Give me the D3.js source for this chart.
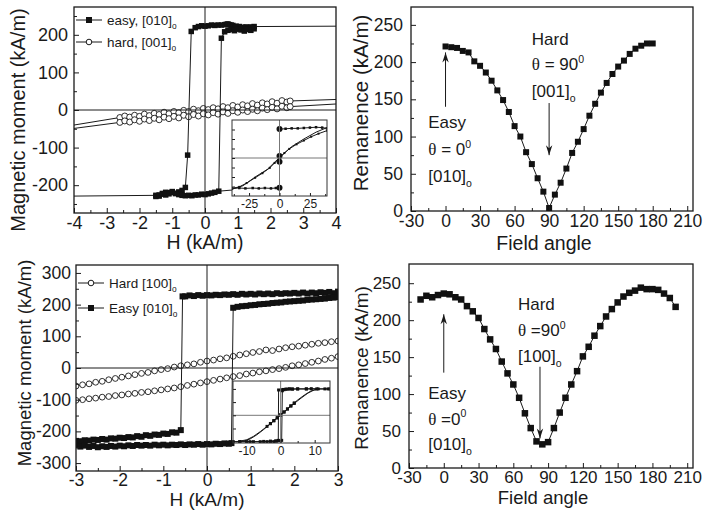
<!DOCTYPE html>
<meta charset="utf-8">
<head>
<style>
  body { margin: 0; background: #fff; }
  svg { display: block; font-family: "Liberation Sans", Arial, sans-serif; }
  .frame { fill: none; stroke: #1a1a1a; stroke-width: 1.3; }
  .zero { stroke: #1a1a1a; stroke-width: 1; }
  .izero { stroke: #777; stroke-width: 1; }
  .dline { fill: none; stroke: #1a1a1a; stroke-width: 1; }
  .ann { fill: #1a1a1a; }
</style>
<script src="https://d3js.org/d3.v7.min.js"></script>
</head>
<body>
<svg id="fig" width="705" height="512"></svg>
<script>
// ---------- data ----------
// top left: easy axis loop [H, M]  (tails without markers go to the frame)
var easy1Down = [[4,223],[1.5,222],[1.45,218],[1.4,221],[1.35,216],[1.3,219],[1.25,221],[1.2,217],[1.15,220],[1.1,218],[1.05,222],[1.0,220],[0.95,223],[0.9,221],[0.85,225],[0.8,226],[0.75,227],[0.7,229],[0.65,228],[0.6,227],[0.5,226],[0.4,226],[0.3,225],[0.2,226],[0.1,224],[0.0,223],[-0.1,224],[-0.2,222],[-0.3,219],[-0.42,209],[-0.53,-120],[-0.6,-206],[-0.7,-214],[-0.8,-218],[-0.9,-222],[-1.0,-217],[-1.1,-220],[-1.2,-226],[-1.3,-224],[-1.4,-229],[-1.5,-227],[-4,-229]];
var easy1Up = [[-1.5,-230],[-1.4,-226],[-1.3,-222],[-1.2,-219],[-1.1,-223],[-1.0,-219],[-0.9,-222],[-0.8,-225],[-0.7,-227],[-0.6,-228],[-0.5,-227],[-0.4,-228],[-0.3,-226],[-0.2,-226],[-0.1,-224],[0.0,-225],[0.1,-223],[0.2,-221],[0.3,-219],[0.42,-216],[0.5,191],[0.6,208],[0.7,212],[0.8,214],[0.9,211],[1.0,215],[1.1,213],[1.2,210],[1.3,214],[1.4,212],[1.5,216]];
var easy1Stub = [[0.42,-216],[0.95,-212]];
// top left: hard axis, two branches
var hard1H = [-2.6,-2.45,-2.3,-2.15,-2.0,-1.85,-1.7,-1.55,-1.4,-1.25,-1.1,-0.95,-0.8,-0.65,-0.5,-0.35,-0.2,-0.05,0.1,0.25,0.4,0.55,0.7,0.85,1.0,1.15,1.3,1.45,1.6,1.75,1.9,2.05,2.2,2.35,2.5,2.6];
var hard1Up = [-20,-16,-19,-14,-17,-11,-15,-9,-12,-6,-10,-4,-7,-1,-4,2,-2,4,1,6,3,9,6,12,8,14,11,17,13,19,16,22,18,25,21,24];
var hard1Low = [-33,-29,-32,-26,-30,-24,-28,-22,-26,-19,-23,-17,-21,-14,-18,-12,-16,-10,-13,-7,-11,-5,-9,-2,-6,0,-4,2,-2,5,1,7,3,10,6,9];
var hard1UpEnds = [[-4,-40],[4,28]];
var hard1LowEnds = [[-4,-49],[4,16]];
// top inset (field in kA/m, moment normalised)
var ins1EasyUp = [[0,0.76],[5,0.77],[10,0.78],[15,0.78],[20,0.79],[25,0.8],[30,0.81],[35,0.8],[39,0.78]];
var ins1EasyLow = [[-39,-0.8],[-33,-0.79],[-28,-0.8],[-22,-0.79],[-17,-0.8],[-12,-0.79],[-7,-0.8],[-3,-0.79],[0,-0.78]];
var ins1EasyJump = [[0,-0.78],[0,-0.1],[0,0.05],[0,0.76]];
var ins1HardA = [[-39,-0.8],[-33,-0.76],[-27,-0.66],[-20,-0.52],[-14,-0.4],[-8,-0.26],[-4,-0.13],[0,0],[4,0.13],[8,0.24],[14,0.36],[20,0.46],[26,0.56],[32,0.64],[39,0.72]];
var ins1HardB = [[-39,-0.82],[-30,-0.73],[-20,-0.5],[-10,-0.3],[-3,-0.08],[3,0.1],[10,0.3],[20,0.5],[30,0.68],[39,0.8]];
// top right: remanence vs angle
var rem1Angle = [0,5,10,15,20,25,30,35,40,45,50,55,60,65,70,75,80,85,90,95,100,105,110,115,120,125,130,135,140,145,150,155,160,165,170,175,180];
var rem1Val = [221,220,219,215,213,201,195,186,175,162,149,133,114,100,79,63,44,26,4,22,38,57,78,93,110,128,144,159,172,184,194,202,211,218,222,225,225];
// bottom left: easy loop
var easy3Down = [[3.0,241],[2.9,236],[2.8,240],[2.7,237],[2.6,239],[2.5,236],[2.4,238],[2.3,235],[2.2,238],[2.1,235],[2.0,237],[1.9,235],[1.8,236],[1.7,234],[1.6,236],[1.5,233],[1.4,235],[1.3,233],[1.2,235],[1.1,232],[1.0,234],[0.9,232],[0.8,234],[0.7,231],[0.6,233],[0.5,231],[0.4,232],[0.3,230],[0.2,231],[0.1,229],[0.0,230],[-0.1,228],[-0.2,230],[-0.3,227],[-0.4,229],[-0.5,226],[-0.56,226],[-0.6,-196],[-0.7,-204],[-0.8,-203],[-0.9,-208],[-1.0,-207],[-1.1,-211],[-1.2,-210],[-1.3,-214],[-1.4,-212],[-1.5,-217],[-1.6,-215],[-1.7,-219],[-1.8,-218],[-1.9,-221],[-2.0,-220],[-2.1,-223],[-2.2,-222],[-2.3,-226],[-2.4,-224],[-2.5,-227],[-2.6,-226],[-2.7,-229],[-2.8,-228],[-2.9,-231],[-3.0,-230]];
var easy3Up = [[-3.0,-244],[-2.9,-248],[-2.8,-245],[-2.7,-249],[-2.6,-246],[-2.5,-250],[-2.4,-247],[-2.3,-249],[-2.2,-246],[-2.1,-248],[-2.0,-245],[-1.9,-247],[-1.8,-244],[-1.7,-246],[-1.6,-243],[-1.5,-245],[-1.4,-243],[-1.3,-245],[-1.2,-242],[-1.1,-244],[-1.0,-242],[-0.9,-244],[-0.8,-242],[-0.7,-243],[-0.6,-241],[-0.5,-243],[-0.4,-241],[-0.3,-242],[-0.2,-240],[-0.1,-242],[0.0,-240],[0.1,-241],[0.2,-239],[0.3,-240],[0.4,-238],[0.5,-239],[0.56,-237],[0.6,190],[0.7,193],[0.8,195],[0.9,196],[1.0,198],[1.1,199],[1.2,201],[1.3,202],[1.4,203],[1.5,205],[1.6,206],[1.7,207],[1.8,209],[1.9,210],[2.0,211],[2.1,212],[2.2,213],[2.3,215],[2.4,216],[2.5,217],[2.6,218],[2.7,219],[2.8,221],[2.9,222],[3.0,224]];
// bottom left: hard axis
var hard3H = [-3,-2.85,-2.7,-2.55,-2.4,-2.25,-2.1,-1.95,-1.8,-1.65,-1.5,-1.35,-1.2,-1.05,-0.9,-0.75,-0.6,-0.45,-0.3,-0.15,0,0.15,0.3,0.45,0.6,0.75,0.9,1.05,1.2,1.35,1.5,1.65,1.8,1.95,2.1,2.25,2.4,2.55,2.7,2.85,3];
var hard3Up = [-57,-53,-50,-45,-42,-37,-33,-29,-25,-21,-17,-14,-9,-5,-2,3,7,10,13,18,22,25,29,32,37,41,45,49,52,57,55,60,64,67,69,72,75,78,80,83,85];
var hard3Low = [-102,-100,-97,-95,-92,-90,-87,-85,-82,-80,-77,-75,-72,-69,-66,-63,-59,-55,-51,-47,-43,-39,-35,-31,-27,-24,-19,-16,-12,-9,-5,-2,2,7,10,14,18,22,27,31,36];
// bottom inset
var ins2EasyDown = [[14.5,1],[13,1],[11,1],[9,1.01],[7.5,1],[5,1],[3.5,0.99],[2.5,1],[1.5,0.99],[0.8,0.98],[0.3,0.97],[-0.6,0.96],[-0.7,-0.95],[-1.2,-0.98],[-2,-1],[-3,-0.99],[-4,-1],[-6,-1],[-9,-1],[-12,-1],[-14,-1]];
var ins2EasyUp = [[-14,-1],[-12,-1],[-10,-1],[-8,-1],[-5,-0.99],[-3,-0.98],[-1.5,-0.97],[-0.5,-0.96],[0.3,-0.95],[0.5,0.93],[1,0.97],[1.8,0.99],[2.6,1],[3.4,1],[5,1],[7.6,1],[10.6,1],[14,1]];
var ins2HardA = [[-13,-1],[-10,-0.93],[-8,-0.8],[-6,-0.62],[-4,-0.42],[-3,-0.31],[-2,-0.2],[-1,-0.09],[0,0.02],[1,0.13],[2,0.24],[3,0.35],[4,0.45],[6,0.65],[8,0.84],[10,0.97],[11.5,1]];
var ins2HardB = [[11.5,1],[9,0.93],[7,0.77],[5,0.58],[4,0.47],[3,0.36],[2,0.24],[1,0.12],[0,0.01],[-1,-0.1],[-2,-0.21],[-3,-0.32],[-5,-0.54],[-7,-0.74],[-9,-0.9],[-11,-0.98],[-13,-1]];
// bottom right: remanence vs angle
var rem2Angle = [-20,-15,-10,-5,0,5,10,15,20,25,30,35,40,45,50,55,60,65,70,75,80,85,90,95,100,105,110,115,120,125,130,135,140,145,150,155,160,165,170,175,180,185,190,195,200];
var rem2Val = [228,233,231,234,236,235,231,228,219,212,203,188,174,161,144,128,113,95,74,54,36,32,35,54,75,95,113,131,151,164,179,192,205,215,224,232,237,240,244,242,242,241,236,230,218];

// tick values
var ticksH4 = [-4,-3,-2,-1,0,1,2,3,4];
var ticksH3 = [-3,-2,-1,0,1,2,3];
var ticksM1 = [-200,-100,0,100,200];
var ticksM3 = [-300,-200,-100,0,100,200,300];
var ticksAng = [-30,0,30,60,90,120,150,180,210];
var ticksRem = [0,50,100,150,200,250];

// ---------- drawing ----------
var svg = d3.select("#fig");
svg.append("rect").attr("width", 705).attr("height", 512).attr("fill", "#fff");

function makePanel(o) {
  var x = d3.scaleLinear().domain(o.xd).range([o.l, o.r]);
  var y = d3.scaleLinear().domain(o.yd).range([o.b, o.t]);
  svg.append("clipPath").attr("id", "clip" + o.id)
    .append("rect").attr("x", o.l).attr("y", o.t).attr("width", o.r - o.l).attr("height", o.b - o.t);
  var g = svg.append("g");
  if (o.bg) g.append("rect").attr("x", o.l).attr("y", o.t).attr("width", o.r - o.l).attr("height", o.b - o.t).attr("fill", "#fff");
  var data = g.append("g").attr("clip-path", "url(#clip" + o.id + ")");
  return {x: x, y: y, g: g, data: data, o: o};
}

function axes(p, c) {
  var o = p.o, f = function(d) { return String(d); };
  function strip(s) { s.select(".domain").remove(); s.attr("font-family", null).attr("color", "#1a1a1a"); }
  p.g.append("g").attr("transform", "translate(0," + o.b + ")")
    .call(d3.axisBottom(p.x).tickValues(c.xMinor).tickSize(-c.minor).tickFormat("")).call(strip);
  p.g.append("g").attr("transform", "translate(0," + o.b + ")")
    .call(d3.axisBottom(p.x).tickValues(c.xMajor).tickSize(-c.major).tickPadding(c.padX).tickFormat(f))
    .call(strip).attr("font-size", c.fs);
  p.g.append("g").attr("transform", "translate(" + o.l + ",0)")
    .call(d3.axisLeft(p.y).tickValues(c.yMinor).tickSize(-c.minor).tickFormat("")).call(strip);
  p.g.append("g").attr("transform", "translate(" + o.l + ",0)")
    .call(d3.axisLeft(p.y).tickValues(c.yMajor).tickSize(-c.major).tickPadding(c.padY).tickFormat(c.noY ? "" : f))
    .call(strip).attr("font-size", c.fs);
}

function frame(p, cls) {
  var o = p.o;
  p.g.append("rect").attr("class", cls || "frame")
    .attr("x", o.l).attr("y", o.t).attr("width", o.r - o.l).attr("height", o.b - o.t);
}

function titles(p, xt, yt) {
  p.g.append("text").attr("x", xt.x).attr("y", xt.y).attr("text-anchor", "middle")
    .attr("font-size", xt.fs).attr("fill", "#1a1a1a").text(xt.text);
  p.g.append("text").attr("transform", "translate(" + yt.x + "," + yt.y + ") rotate(-90)")
    .attr("text-anchor", "middle").attr("font-size", yt.fs).attr("fill", "#1a1a1a").text(yt.text);
}

function line(p, g, pts, w) {
  g.append("path").attr("class", "dline").attr("stroke-width", w || 1)
    .attr("d", d3.line().x(function(d) { return p.x(d[0]); }).y(function(d) { return p.y(d[1]); })(pts));
}

function squares(p, g, pts, s) {
  g.selectAll(null).data(pts).enter().append("rect")
    .attr("x", function(d) { return p.x(d[0]) - s / 2; })
    .attr("y", function(d) { return p.y(d[1]) - s / 2; })
    .attr("width", s).attr("height", s).attr("fill", "#111");
}

function circles(p, g, pts, r) {
  g.selectAll(null).data(pts).enter().append("circle")
    .attr("cx", function(d) { return p.x(d[0]); })
    .attr("cy", function(d) { return p.y(d[1]); })
    .attr("r", r).attr("fill", "#fff").attr("stroke", "#1a1a1a").attr("stroke-width", 0.9);
}

// text with optional sub / superscript pieces
function rich(g, x, y, fs, parts) {
  var t = g.append("text").attr("x", x).attr("y", y).attr("font-size", fs).attr("class", "ann");
  parts.forEach(function(q) {
    var s = t.append("tspan").text(q.t);
    if (q.serif) s.attr("font-family", "'Liberation Serif', 'Times New Roman', serif");
    if (q.sup) s.attr("font-size", fs * 0.62).attr("dy", -fs * 0.45);
    if (q.sub) s.attr("font-size", fs * 0.62).attr("dy", fs * 0.3);
  });
  return t;
}

function arrow(g, x1, y1, x2, y2) {
  g.append("line").attr("x1", x1).attr("y1", y1).attr("x2", x2).attr("y2", y2)
    .attr("stroke", "#1a1a1a").attr("stroke-width", 1);
  var dir = y2 > y1 ? 1 : -1;
  g.append("path").attr("fill", "#1a1a1a")
    .attr("d", "M" + x2 + "," + y2 + "L" + (x2 - 3.2) + "," + (y2 - dir * 10) + "L" + x2 + "," + (y2 - dir * 7) + "L" + (x2 + 3.2) + "," + (y2 - dir * 10) + "Z");
}

function zeroLines(p, cls) {
  var o = p.o;
  p.g.append("line").attr("class", cls || "zero").attr("x1", o.l).attr("x2", o.r).attr("y1", p.y(0)).attr("y2", p.y(0));
  p.g.append("line").attr("class", cls || "zero").attr("x1", p.x(0)).attr("x2", p.x(0)).attr("y1", o.t).attr("y2", o.b);
}

function legendRow(p, y, kind, label, sub) {
  var g = p.g;
  g.append("line").attr("x1", p.o.l + 2).attr("x2", p.o.l + 28).attr("y1", y).attr("y2", y)
    .attr("stroke", "#1a1a1a").attr("stroke-width", 1);
  if (kind == "sq") g.append("rect").attr("x", p.o.l + 12).attr("y", y - 3).attr("width", 6).attr("height", 6).attr("fill", "#111");
  else g.append("circle").attr("cx", p.o.l + 15).attr("cy", y).attr("r", 2.8).attr("fill", "#fff").attr("stroke", "#1a1a1a");
  rich(g, p.o.l + 33, y + 5, 13.5, [{t: label}, {t: sub, sub: true}]);
}

// ===== panel 1 : top left =====
var p1 = makePanel({id: 1, l: 74, r: 336, t: 7, b: 213, xd: [-4, 4], yd: [-274, 274]});
zeroLines(p1);
var up1 = hard1H.map(function(h, i) { return [h, hard1Up[i]]; });
var low1 = hard1H.map(function(h, i) { return [h, hard1Low[i]]; });
line(p1, p1.data, [hard1UpEnds[0]].concat(up1, [hard1UpEnds[1]]));
line(p1, p1.data, [hard1LowEnds[0]].concat(low1, [hard1LowEnds[1]]));
circles(p1, p1.data, up1, 3);
circles(p1, p1.data, low1, 3);
line(p1, p1.data, easy1Stub);
line(p1, p1.data, easy1Down);
line(p1, p1.data, easy1Up);
squares(p1, p1.data, easy1Down.filter(function(d) { return Math.abs(d[0]) <= 1.55; }), 5.5);
squares(p1, p1.data, easy1Up, 5.5);
legendRow(p1, 20, "sq", "easy, [010]", "o");
legendRow(p1, 42, "ci", "hard, [001]", "o");

// inset 1
var i1 = makePanel({id: 11, l: 232, r: 327, t: 120, b: 196, xd: [-39, 39], yd: [-1, 1], bg: true});
zeroLines(i1, "izero");
line(i1, i1.data, ins1HardA);
line(i1, i1.data, ins1HardB);
line(i1, i1.data, ins1EasyUp);
line(i1, i1.data, ins1EasyLow);
line(i1, i1.data, ins1EasyJump, 2.2);
squares(i1, i1.data, ins1EasyUp.concat(ins1EasyLow), 2.5);
squares(i1, i1.data, ins1HardA, 2);
i1.data.selectAll(null).data(ins1EasyJump).enter().append("circle")
  .attr("cx", function(d) { return i1.x(d[0]); }).attr("cy", function(d) { return i1.y(d[1]); })
  .attr("r", 3).attr("fill", "#111");
axes(i1, {xMajor: [-25, 0, 25], xMinor: [-37.5, -12.5, 12.5, 37.5], yMajor: [-0.75, -0.5, -0.25, 0, 0.25, 0.5, 0.75], yMinor: [],
  major: 3, minor: 2, padX: 3, padY: 2, fs: 12, noY: true});
i1.g.append("rect").attr("x", 232).attr("y", 120).attr("width", 95).attr("height", 76)
  .attr("fill", "none").attr("stroke", "#333").attr("stroke-width", 1);

axes(p1, {xMajor: ticksH4, xMinor: [-3.5, -2.5, -1.5, -0.5, 0.5, 1.5, 2.5, 3.5], yMajor: ticksM1, yMinor: [-250, -150, -50, 50, 150, 250],
  major: 5, minor: 3, padX: 3, padY: 6, fs: 18});
frame(p1);
titles(p1, {x: 205, y: 249, fs: 19.5, text: "H (kA/m)"}, {x: 25, y: 120, fs: 20, text: "Magnetic moment (kA/m)"});

// ===== panel 2 : top right =====
var p2 = makePanel({id: 2, l: 411, r: 693, t: 7, b: 211, xd: [-30, 215], yd: [0, 274]});
var r1 = rem1Angle.map(function(a, i) { return [a, rem1Val[i]]; });
line(p2, p2.data, r1);
squares(p2, p2.data, r1, 6);
axes(p2, {xMajor: ticksAng, xMinor: [-15, 15, 45, 75, 105, 135, 165, 195], yMajor: ticksRem, yMinor: [25, 75, 125, 175, 225],
  major: 5, minor: 3, padX: 4, padY: 8, fs: 17.5});
frame(p2);
titles(p2, {x: 544, y: 250, fs: 19.5, text: "Field angle"}, {x: 368, y: 103, fs: 20.5, text: "Remanence (kA/m)"});
rich(p2.g, p2.x(75), p2.y(223), 17, [{t: "Hard"}]);
rich(p2.g, p2.x(75), p2.y(189), 17, [{t: "\u03b8", serif: true}, {t: " = 90"}, {t: "0", sup: true}]);
rich(p2.g, p2.x(75), p2.y(153), 17, [{t: "[001]"}, {t: "o", sub: true}]);
rich(p2.g, p2.x(-15), p2.y(111), 17, [{t: "Easy"}]);
rich(p2.g, p2.x(-15), p2.y(75), 17, [{t: "\u03b8", serif: true}, {t: " = 0"}, {t: "0", sup: true}]);
rich(p2.g, p2.x(-15), p2.y(39), 17, [{t: "[010]"}, {t: "o", sub: true}]);
arrow(p2.g, p2.x(90), p2.y(145), p2.x(90), p2.y(75));
arrow(p2.g, p2.x(0), p2.y(140), p2.x(0), p2.y(213));

// ===== panel 3 : bottom left =====
var p3 = makePanel({id: 3, l: 76, r: 338, t: 265, b: 471, xd: [-3, 3], yd: [-325, 325]});
zeroLines(p3);
var up3 = hard3H.map(function(h, i) { return [h, hard3Up[i]]; });
var low3 = hard3H.map(function(h, i) { return [h, hard3Low[i]]; });
line(p3, p3.data, up3);
line(p3, p3.data, low3);
circles(p3, p3.data, up3, 2.9);
circles(p3, p3.data, low3, 2.9);
line(p3, p3.data, easy3Down);
line(p3, p3.data, easy3Up);
squares(p3, p3.data, easy3Down, 6);
squares(p3, p3.data, easy3Up, 6);
legendRow(p3, 283, "ci", "Hard [100]", "o");
legendRow(p3, 308, "sq", "Easy [010]", "o");

// inset 2
var i2 = makePanel({id: 12, l: 233, r: 330, t: 381, b: 443, xd: [-14, 14.5], yd: [-1.05, 1.3], bg: true});
zeroLines(i2, "izero");
line(i2, i2.data, ins2HardA);
line(i2, i2.data, ins2HardB);
line(i2, i2.data, ins2EasyDown);
line(i2, i2.data, ins2EasyUp);
squares(i2, i2.data, ins2HardA.filter(function(d) { return Math.abs(d[0]) <= 4; }), 3);
squares(i2, i2.data, ins2HardB.filter(function(d) { return Math.abs(d[0]) <= 4; }), 3);
squares(i2, i2.data, ins2EasyDown, 3);
squares(i2, i2.data, ins2EasyUp, 3);
axes(i2, {xMajor: [-10, 0, 10], xMinor: [-5, 5], yMajor: [-0.5, 0, 0.5, 1], yMinor: [],
  major: 3, minor: 2, padX: 3, padY: 2, fs: 12, noY: true});
i2.g.append("rect").attr("x", 233).attr("y", 381).attr("width", 97).attr("height", 62)
  .attr("fill", "none").attr("stroke", "#333").attr("stroke-width", 1);

axes(p3, {xMajor: ticksH3, xMinor: [-2.5, -1.5, -0.5, 0.5, 1.5, 2.5], yMajor: ticksM3, yMinor: [-250, -150, -50, 50, 150, 250],
  major: 5, minor: 3, padX: 3, padY: 5, fs: 17.5});
frame(p3);
titles(p3, {x: 207, y: 506, fs: 19, text: "H (kA/m)"}, {x: 31, y: 363, fs: 18.5, text: "Magnetic moment (kA/m)"});

// ===== panel 4 : bottom right =====
var p4 = makePanel({id: 4, l: 409, r: 693, t: 264, b: 468, xd: [-30, 215], yd: [0, 276]});
var r2 = rem2Angle.map(function(a, i) { return [a, rem2Val[i]]; });
line(p4, p4.data, r2);
squares(p4, p4.data, r2, 6.5);
axes(p4, {xMajor: ticksAng, xMinor: [-15, 15, 45, 75, 105, 135, 165, 195], yMajor: ticksRem, yMinor: [25, 75, 125, 175, 225],
  major: 5, minor: 3, padX: 3, padY: 8, fs: 17});
frame(p4);
titles(p4, {x: 543, y: 504, fs: 18.5, text: "Field angle"}, {x: 368, y: 368, fs: 19, text: "Remanence (kA/m)"});
rich(p4.g, p4.x(64), p4.y(213.5), 17, [{t: "Hard"}]);
rich(p4.g, p4.x(64), p4.y(178), 17, [{t: "\u03b8", serif: true}, {t: " =90"}, {t: "0", sup: true}]);
rich(p4.g, p4.x(64), p4.y(143.6), 17, [{t: "[100]"}, {t: "o", sub: true}]);
rich(p4.g, p4.x(-13.4), p4.y(94), 17, [{t: "Easy"}]);
rich(p4.g, p4.x(-13.4), p4.y(58), 17, [{t: "\u03b8", serif: true}, {t: " =0"}, {t: "0", sup: true}]);
rich(p4.g, p4.x(-13.4), p4.y(24), 17, [{t: "[010]"}, {t: "o", sub: true}]);
arrow(p4.g, p4.x(83), p4.y(137), p4.x(83), p4.y(40));
arrow(p4.g, p4.x(0), p4.y(129), p4.x(0), p4.y(208));
</script>
</body>
